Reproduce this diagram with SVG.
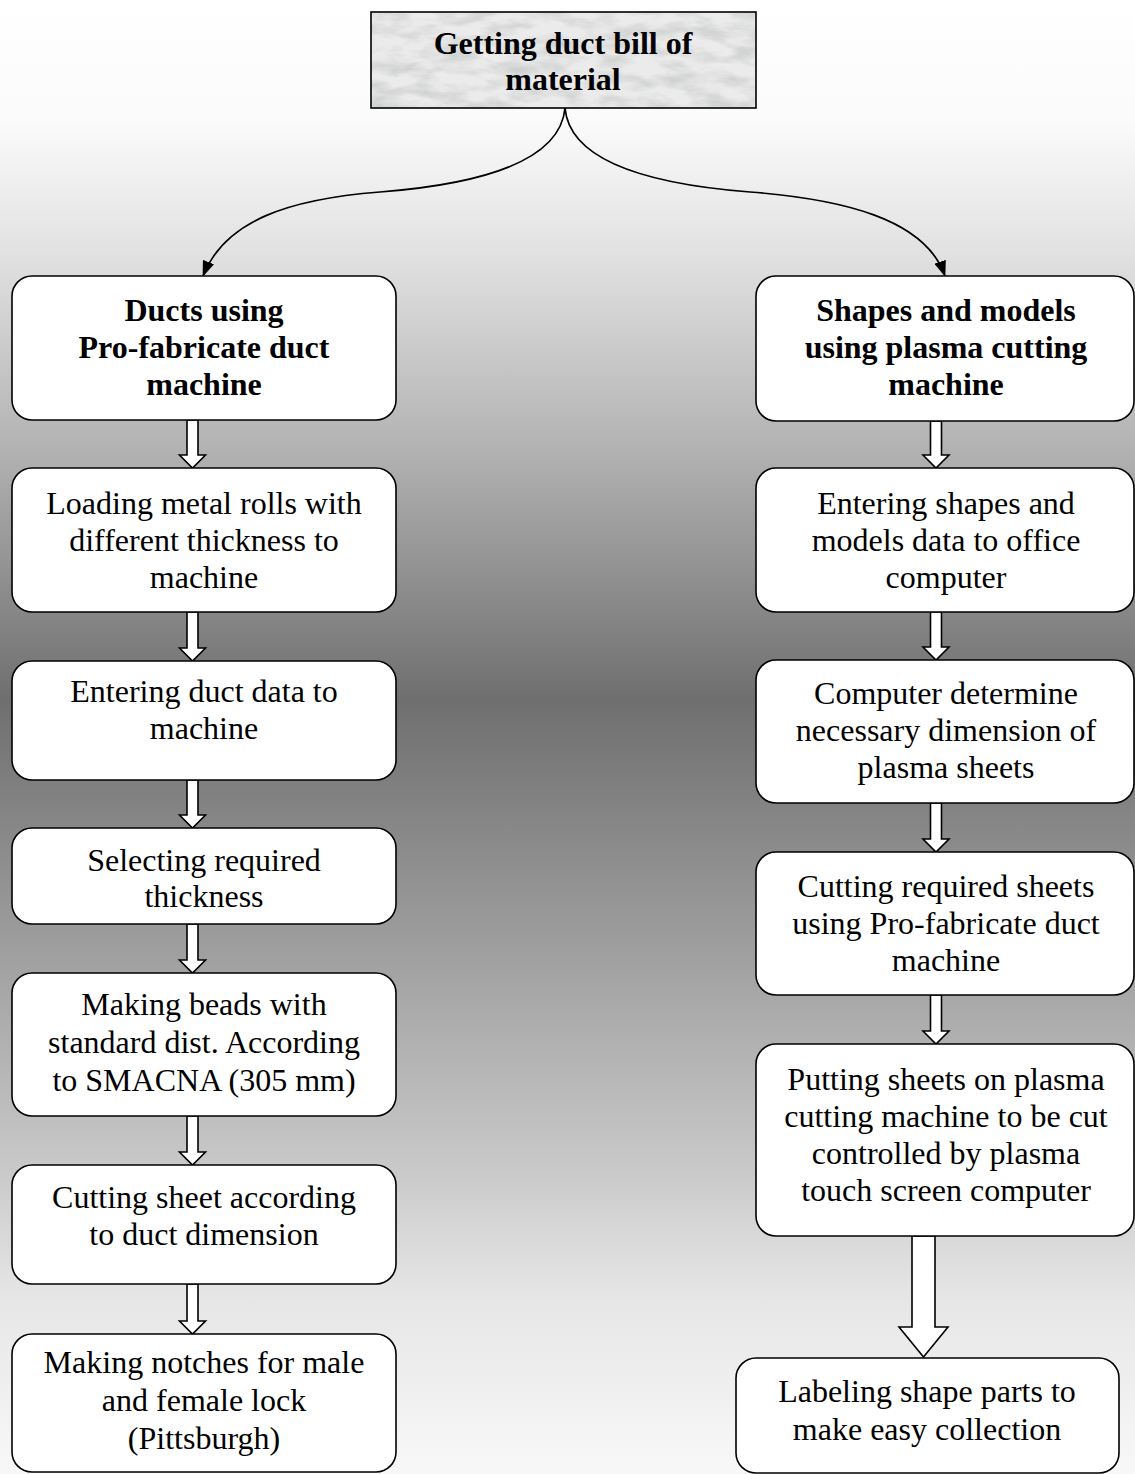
<svg xmlns="http://www.w3.org/2000/svg" width="1135" height="1474" viewBox="0 0 1135 1474">
<defs>
<linearGradient id="bg" x1="0" y1="0" x2="0" y2="1474" gradientUnits="userSpaceOnUse">
<stop offset="0" stop-color="#ffffff"/>
<stop offset="0.08" stop-color="#fbfbfb"/>
<stop offset="0.17" stop-color="#e2e2e2"/>
<stop offset="0.305" stop-color="#b2b2b2"/>
<stop offset="0.475" stop-color="#6f6f6f"/>
<stop offset="0.61" stop-color="#959595"/>
<stop offset="0.79" stop-color="#c8c8c8"/>
<stop offset="0.88" stop-color="#e6e6e6"/>
<stop offset="1" stop-color="#f8f8f8"/>
</linearGradient>
<filter id="marble" x="0" y="0" width="1" height="1">
<feTurbulence type="fractalNoise" baseFrequency="0.03 0.08" numOctaves="4" seed="7" result="n"/>
<feColorMatrix in="n" type="matrix" values="0 0 0 0 0.55  0 0 0 0 0.56  0 0 0 0 0.56  1.6 0 0 0 -0.6" result="c"/>
<feComposite in="c" in2="SourceGraphic" operator="in"/>
</filter>
<marker id="ah" viewBox="0 0 16 12" refX="15" refY="6" markerWidth="16" markerHeight="12" markerUnits="userSpaceOnUse" orient="auto">
<path d="M0,0 L16,6 L0,12 z" fill="#000"/>
</marker>
<style>
.box{fill:#ffffff;stroke:#000;stroke-width:1.6}
.t{font-family:"Liberation Serif","Times New Roman",serif;font-size:32px;fill:#000;text-anchor:middle}
.b{font-weight:bold}
.blk{fill:#ffffff;stroke:#000;stroke-width:1.6;stroke-linejoin:miter}
.cv{fill:none;stroke:#000;stroke-width:1.7}
</style>
</defs>
<rect x="0" y="0" width="1135" height="1474" fill="url(#bg)"/>

<g id="connectors">
<path class="cv" d="M565,108 C560,165 470,185 380,192 C290,199 225,220 203,276" marker-end="url(#ah)"/>
<path class="cv" d="M565,108 C570,165 660,185 750,192 C840,199 925,218 945,276" marker-end="url(#ah)"/>
<path class="blk" d="M187,420 h11 v35 h7.5 l-13,13 l-13,-13 h7.5 z"/>
<path class="blk" d="M187,612 h11 v36 h7.5 l-13,13 l-13,-13 h7.5 z"/>
<path class="blk" d="M187,780 h11 v35 h7.5 l-13,13 l-13,-13 h7.5 z"/>
<path class="blk" d="M187,924 h11 v36 h7.5 l-13,13 l-13,-13 h7.5 z"/>
<path class="blk" d="M187,1116 h11 v36 h7.5 l-13,13 l-13,-13 h7.5 z"/>
<path class="blk" d="M187,1284 h11 v37 h7.5 l-13,13 l-13,-13 h7.5 z"/>
<path class="blk" d="M930.5,421 h11 v34 h7.5 l-13,13 l-13,-13 h7.5 z"/>
<path class="blk" d="M930.5,612 h11 v35 h7.5 l-13,13 l-13,-13 h7.5 z"/>
<path class="blk" d="M930.5,803 h11 v36 h7.5 l-13,13 l-13,-13 h7.5 z"/>
<path class="blk" d="M930.5,995 h11 v36 h7.5 l-13,13 l-13,-13 h7.5 z"/>
<path class="blk" d="M912,1236 h23 v91 h13 l-24.5,30 l-24.5,-30 h13 z"/>
</g>

<g id="n-top">
<rect x="371" y="12" width="385" height="96" fill="#ebebeb"/>
<rect x="371" y="12" width="385" height="96" fill="#ffffff" filter="url(#marble)"/>
<rect x="371" y="12" width="385" height="96" fill="none" stroke="#000" stroke-width="1.6"/>
<text class="t b" x="563" y="54">Getting duct bill of</text>
<text class="t b" x="563" y="90">material</text>
</g>

<g id="n-l1">
<rect class="box" x="12" y="276" width="384" height="144" rx="20"/>
<text class="t b" x="204" y="321">Ducts using</text>
<text class="t b" x="204" y="358">Pro-fabricate duct</text>
<text class="t b" x="204" y="395">machine</text>
</g>
<g id="n-l2">
<rect class="box" x="12" y="468" width="384" height="144" rx="20"/>
<text class="t" x="204" y="514">Loading metal rolls with</text>
<text class="t" x="204" y="551">different thickness to</text>
<text class="t" x="204" y="588">machine</text>
</g>
<g id="n-l3">
<rect class="box" x="12" y="661" width="384" height="119" rx="20"/>
<text class="t" x="204" y="702">Entering duct data to</text>
<text class="t" x="204" y="739">machine</text>
</g>
<g id="n-l4">
<rect class="box" x="12" y="828" width="384" height="96" rx="20"/>
<text class="t" x="204" y="871">Selecting required</text>
<text class="t" x="204" y="907">thickness</text>
</g>
<g id="n-l5">
<rect class="box" x="12" y="973" width="384" height="143" rx="20"/>
<text class="t" x="204" y="1015">Making beads with</text>
<text class="t" x="204" y="1053">standard dist. According</text>
<text class="t" x="204" y="1091">to SMACNA (305 mm)</text>
</g>
<g id="n-l6">
<rect class="box" x="12" y="1165" width="384" height="119" rx="20"/>
<text class="t" x="204" y="1208">Cutting sheet according</text>
<text class="t" x="204" y="1245">to duct dimension</text>
</g>
<g id="n-l7">
<rect class="box" x="12" y="1334" width="384" height="138" rx="20"/>
<text class="t" x="204" y="1373">Making notches for male</text>
<text class="t" x="204" y="1411">and female lock</text>
<text class="t" x="204" y="1449">(Pittsburgh)</text>
</g>

<g id="n-r1">
<rect class="box" x="756" y="276" width="378" height="145" rx="20"/>
<text class="t b" x="946" y="321">Shapes and models</text>
<text class="t b" x="946" y="358">using plasma cutting</text>
<text class="t b" x="946" y="395">machine</text>
</g>
<g id="n-r2">
<rect class="box" x="756" y="468" width="378" height="144" rx="20"/>
<text class="t" x="946" y="514">Entering shapes and</text>
<text class="t" x="946" y="551">models data to office</text>
<text class="t" x="946" y="588">computer</text>
</g>
<g id="n-r3">
<rect class="box" x="756" y="660" width="378" height="143" rx="20"/>
<text class="t" x="946" y="704">Computer determine</text>
<text class="t" x="946" y="741">necessary dimension of</text>
<text class="t" x="946" y="778">plasma sheets</text>
</g>
<g id="n-r4">
<rect class="box" x="756" y="852" width="378" height="143" rx="20"/>
<text class="t" x="946" y="897">Cutting required sheets</text>
<text class="t" x="946" y="934">using Pro-fabricate duct</text>
<text class="t" x="946" y="971">machine</text>
</g>
<g id="n-r5">
<rect class="box" x="756" y="1044" width="378" height="192" rx="20"/>
<text class="t" x="946" y="1090">Putting sheets on plasma</text>
<text class="t" x="946" y="1127">cutting machine to be cut</text>
<text class="t" x="946" y="1164">controlled by plasma</text>
<text class="t" x="946" y="1201">touch screen computer</text>
</g>
<g id="n-r6">
<rect class="box" x="736" y="1358" width="383" height="115" rx="20"/>
<text class="t" x="927" y="1402">Labeling shape parts to</text>
<text class="t" x="927" y="1440">make easy collection</text>
</g>
</svg>
